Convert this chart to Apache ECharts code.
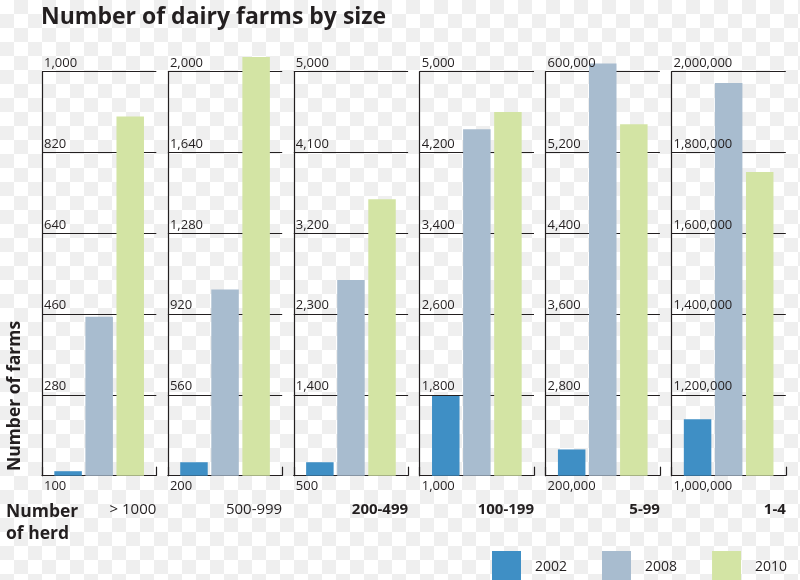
<!DOCTYPE html>
<html>
<head>
<meta charset="utf-8">
<script src="https://cdn.jsdelivr.net/npm/echarts@6/dist/echarts.min.js"></script>
<style>
  html, body { margin: 0; padding: 0; }
  #chart {
    width: 800px; height: 580px;
    background: repeating-conic-gradient(#efefef 0 25%, #ffffff 0 50%) 0 0 / 28px 28px;
  }
</style>
</head>
<body>
<div id="chart"></div>
<script>
// ---- data ----
const categories = ['> 1000', '500-999', '200-499', '100-199', '5-99', '1-4'];
const years = ['2002', '2008', '2010'];
const farms2002 = [110, 260, 650, 1790, 2260, 1140000];
const farms2008 = [454, 1030, 2680, 4430, 6080, 1972000];
const farms2010 = [900, 2065, 3580, 4600, 5480, 1752000];
const axisMin = [100, 200, 500, 1000, 2000, 1000000];
const axisMax = [1000, 2000, 5000, 5000, 6000, 2000000];
const axisStep = [180, 360, 900, 800, 800, 200000];
const tickLabels = [
  ['100', '280', '460', '640', '820', '1,000'],
  ['200', '560', '920', '1,280', '1,640', '2,000'],
  ['500', '1,400', '2,300', '3,200', '4,100', '5,000'],
  ['1,000', '1,800', '2,600', '3,400', '4,200', '5,000'],
  ['200,000', '2,800', '3,600', '4,400', '5,200', '600,000'],
  ['1,000,000', '1,200,000', '1,400,000', '1,600,000', '1,800,000', '2,000,000']
];

// ---- style ----
const seriesValues = [farms2002, farms2008, farms2010];
const colors = ['#3f8fc5', '#a8bccf', '#d3e4a4'];
const ink = '#231f20';
const font = 'Open Sans';

const grids = [], xAxes = [], yAxes = [], series = [];
for (let i = 0; i < categories.length; i++) {
  grids.push({ left: 42 + 125.9 * i, top: 71.7, width: 114.3, height: 404 });
  xAxes.push({
    type: 'category', gridIndex: i, data: [categories[i]],
    axisLine: { lineStyle: { color: ink, width: 1.2 } },
    axisTick: { show: true, inside: true, length: 9, lineStyle: { color: ink, width: 1.2 } },
    axisLabel: { show: false },
    name: categories[i], nameLocation: 'end', nameGap: 0,
    nameTextStyle: {
      align: 'right', verticalAlign: 'top', padding: [27, 0, 0, 0],
      fontFamily: font, fontSize: 15, fontWeight: i < 2 ? 'normal' : 'bold', color: ink
    }
  });
  // axis with lines (behind bars)
  yAxes.push({
    type: 'value', gridIndex: i, position: 'left', offset: 0,
    min: axisMin[i], max: axisMax[i], interval: axisStep[i],
    startValue: axisMin[i],
    axisLine: { show: true, lineStyle: { color: ink, width: 1.2 } },
    axisTick: { show: false },
    splitLine: { show: true, lineStyle: { color: ink, width: 1 } },
    axisLabel: { show: false },
    name: tickLabels[i][0], nameLocation: 'start', nameGap: 4,
    nameTextStyle: {
      align: 'left', verticalAlign: 'top', padding: [0, 0, 0, 2],
      fontFamily: font, fontSize: 13, color: ink
    }
  });
  // axis with labels (above bars)
  yAxes.push({
    type: 'value', gridIndex: i, position: 'left', offset: 0, z: 10,
    min: axisMin[i], max: axisMax[i], interval: axisStep[i],
    axisLine: { show: false }, axisTick: { show: false }, splitLine: { show: false },
    axisLabel: {
      inside: true, margin: 2, verticalAlign: 'bottom', padding: [0, 0, 2, 0],
      fontFamily: font, fontSize: 13, color: ink,
      formatter: (v, idx) => idx === 0 ? '' : tickLabels[i][idx]
    }
  });
  for (let j = 0; j < years.length; j++) {
    series.push({
      type: 'bar', name: years[j], xAxisIndex: i, yAxisIndex: 2 * i,
      data: [seriesValues[j][i]], barWidth: 27.5, barGap: '13%', clip: false,
      itemStyle: { color: colors[j] }, silent: true
    });
  }
}

const chart = echarts.init(document.getElementById('chart'), null, { renderer: 'canvas' });
chart.setOption({
  backgroundColor: 'transparent',
  animation: false,
  textStyle: { fontFamily: font },
  title: {
    text: 'Number of dairy farms by size', left: 36, top: 1,
    textStyle: { fontFamily: font, fontSize: 23, fontWeight: 'bold', color: ink }
  },
  legend: {
    data: years, left: 492, top: 551, padding: 0, itemWidth: 29, itemHeight: 32, itemGap: 35,
    icon: 'rect', selectedMode: false,
    textStyle: { fontFamily: font, fontSize: 14, color: ink, padding: [0, 0, 0, 9] }
  },
  graphic: [
    {
      type: 'text', left: 6, top: 501,
      style: { text: 'Number\nof herd', fontFamily: font, fontSize: 17.5, fontWeight: 'bold', fill: ink, lineHeight: 22 }
    },
    {
      type: 'text', x: 15, y: 396, rotation: Math.PI / 2,
      style: { text: 'Number of farms', fontFamily: font, fontSize: 17.5, fontWeight: 'bold', fill: ink, align: 'center', verticalAlign: 'middle' }
    }
  ],
  grid: grids, xAxis: xAxes, yAxis: yAxes, series: series
});
</script>
</body>
</html>
